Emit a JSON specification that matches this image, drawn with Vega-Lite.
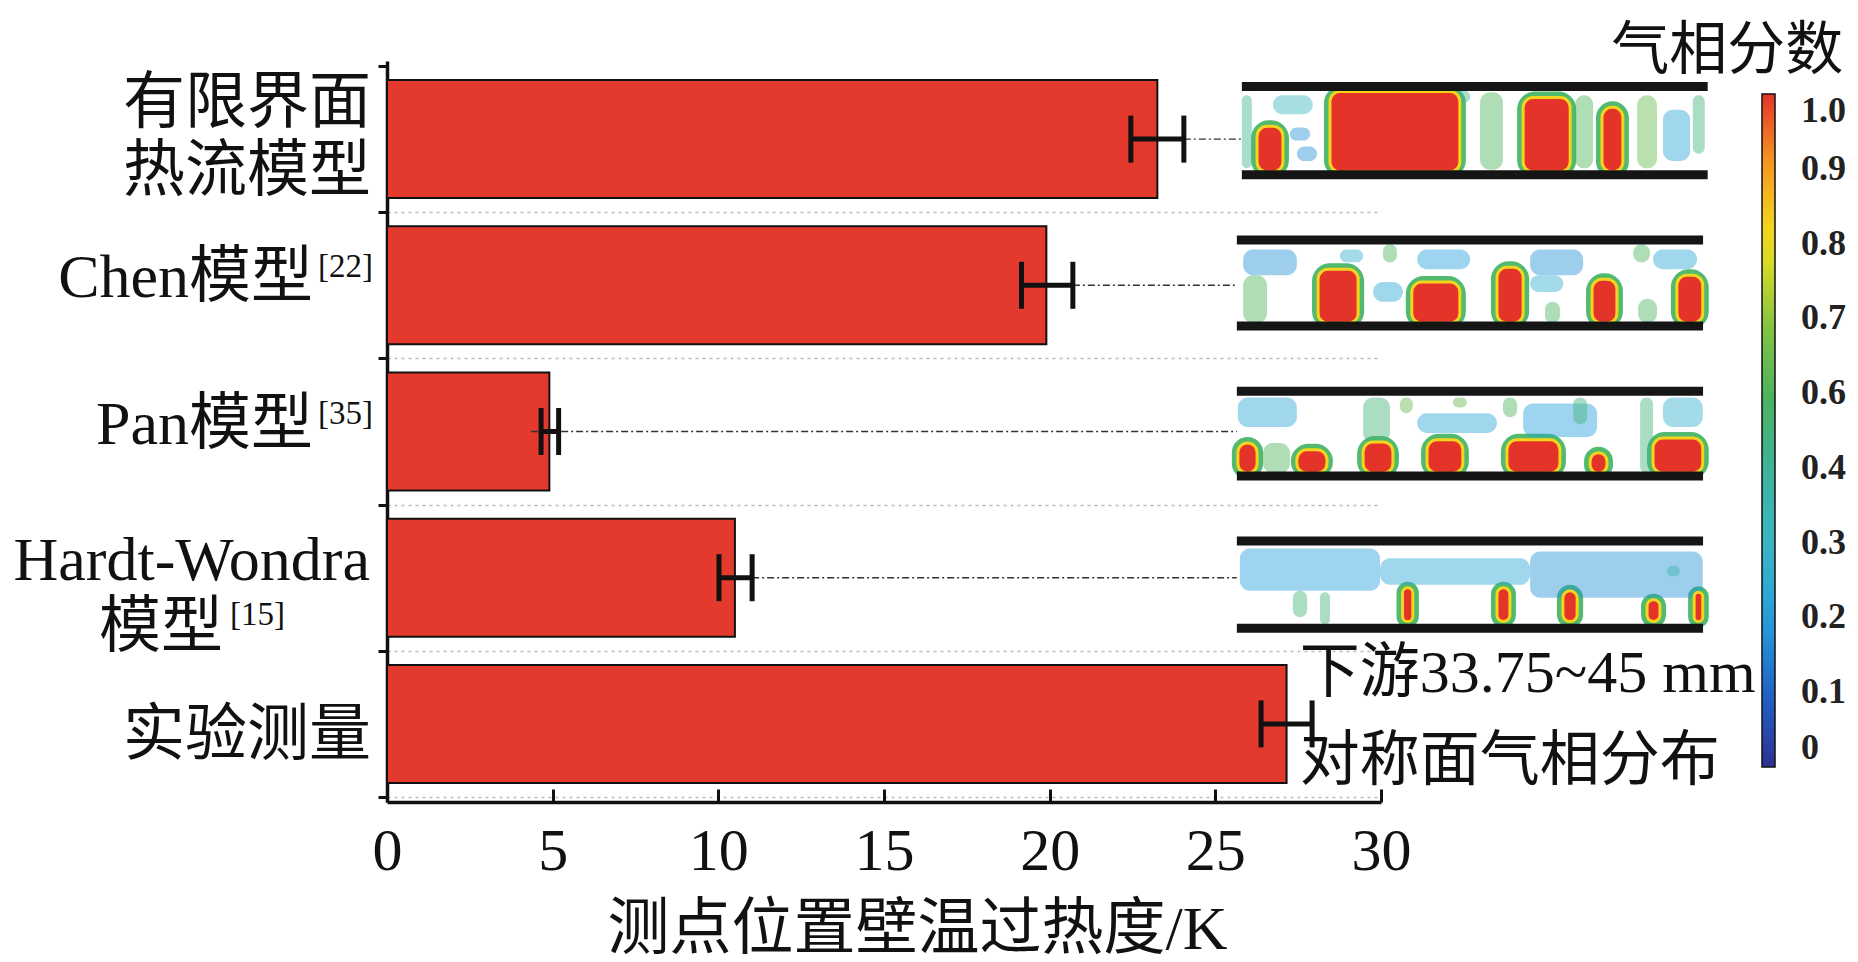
{
  "$schema": "https://vega.github.io/schema/vega-lite/v6.json",
  "width": 994,
  "height": 741,
  "autosize": {"type": "none"},
  "padding": {"left": 387, "top": 61, "right": 477, "bottom": 160},
  "background": "white",
  "config": {"view": {"stroke": null}},
  "datasets": {
    "bars": [
      {"model": "有限界面热流模型", "idx": 0, "value": 23.25, "lo": 22.45, "hi": 24.05},
      {"model": "Chen模型", "idx": 1, "value": 19.9, "lo": 19.15, "hi": 20.7},
      {"model": "Pan模型", "idx": 2, "value": 4.9, "lo": 4.65, "hi": 5.18},
      {"model": "Hardt-Wondra模型", "idx": 3, "value": 10.5, "lo": 10.02, "hi": 11.02},
      {"model": "实验测量", "idx": 4, "value": 27.15, "lo": 26.38, "hi": 27.92}
    ],
    "links": [
      {"idx": 0, "from": 24.05, "to": 25.8},
      {"idx": 1, "from": 20.7, "to": 25.65},
      {"idx": 2, "from": 4.35, "to": 25.65},
      {"idx": 3, "from": 11.02, "to": 25.65}
    ],
    "labels": [
      {"idx": 0, "text": "有限界面\n热流模型", "kind": "twoline"},
      {"idx": 1, "text": "Chen模型", "kind": "base"},
      {"idx": 1, "text": "[22]", "kind": "sup"},
      {"idx": 2, "text": "Pan模型", "kind": "base"},
      {"idx": 2, "text": "[35]", "kind": "sup"},
      {"idx": 3, "text": "Hardt-Wondra", "kind": "line1"},
      {"idx": 3, "text": "模型", "kind": "line2"},
      {"idx": 3, "text": "[15]", "kind": "line2sup"},
      {"idx": 4, "text": "实验测量", "kind": "plain"}
    ],
    "walls": [
      {"img": 0, "x0": 25.8, "x1": 39.86, "y": -0.36},
      {"img": 0, "x0": 25.8, "x1": 39.86, "y": 0.244},
      {"img": 1, "x0": 25.65, "x1": 39.72, "y": 0.691},
      {"img": 1, "x0": 25.65, "x1": 39.72, "y": 1.279},
      {"img": 2, "x0": 25.65, "x1": 39.72, "y": 1.725},
      {"img": 2, "x0": 25.65, "x1": 39.72, "y": 2.305},
      {"img": 3, "x0": 25.65, "x1": 39.72, "y": 2.749},
      {"img": 3, "x0": 25.65, "x1": 39.72, "y": 3.345}
    ],
    "cells": [
      {"img": 0, "x0": 25.8, "x1": 26.1, "y0": -0.3, "y1": 0.2, "f": 0.45},
      {"img": 0, "x0": 26.74, "x1": 27.94, "y0": -0.3, "y1": -0.17, "f": 0.35},
      {"img": 0, "x0": 27.25, "x1": 27.86, "y0": -0.08, "y1": 0.01, "f": 0.2},
      {"img": 0, "x0": 27.46, "x1": 28.07, "y0": 0.05, "y1": 0.15, "f": 0.2},
      {"img": 0, "x0": 31.48, "x1": 32.69, "y0": -0.33, "y1": -0.25, "f": 0.45},
      {"img": 0, "x0": 32.99, "x1": 33.68, "y0": -0.32, "y1": 0.21, "f": 0.55},
      {"img": 0, "x0": 35.86, "x1": 36.4, "y0": -0.3, "y1": 0.2, "f": 0.55},
      {"img": 0, "x0": 37.73, "x1": 38.33, "y0": -0.3, "y1": 0.2, "f": 0.6},
      {"img": 0, "x0": 38.51, "x1": 39.33, "y0": -0.2, "y1": 0.15, "f": 0.25},
      {"img": 0, "x0": 39.41, "x1": 39.77, "y0": -0.3, "y1": 0.1, "f": 0.5},
      {"img": 1, "x0": 25.84, "x1": 27.46, "y0": 0.755, "y1": 0.931, "f": 0.2},
      {"img": 1, "x0": 28.76, "x1": 29.46, "y0": 0.755, "y1": 0.843, "f": 0.3},
      {"img": 1, "x0": 30.06, "x1": 30.48, "y0": 0.72, "y1": 0.843, "f": 0.55},
      {"img": 1, "x0": 31.09, "x1": 32.69, "y0": 0.755, "y1": 0.89, "f": 0.22},
      {"img": 1, "x0": 34.5, "x1": 36.1, "y0": 0.755, "y1": 0.931, "f": 0.2},
      {"img": 1, "x0": 37.61, "x1": 38.12, "y0": 0.72, "y1": 0.843, "f": 0.55},
      {"img": 1, "x0": 38.21, "x1": 39.54, "y0": 0.755, "y1": 0.89, "f": 0.25},
      {"img": 1, "x0": 29.76, "x1": 30.66, "y0": 0.978, "y1": 1.113, "f": 0.25},
      {"img": 1, "x0": 34.5, "x1": 35.5, "y0": 0.931, "y1": 1.045, "f": 0.3},
      {"img": 1, "x0": 25.84, "x1": 26.56, "y0": 0.931, "y1": 1.26, "f": 0.55},
      {"img": 1, "x0": 34.95, "x1": 35.4, "y0": 1.113, "y1": 1.26, "f": 0.55},
      {"img": 1, "x0": 37.76, "x1": 38.33, "y0": 1.092, "y1": 1.26, "f": 0.55},
      {"img": 2, "x0": 25.68, "x1": 27.46, "y0": 1.767, "y1": 1.97, "f": 0.25},
      {"img": 2, "x0": 29.46, "x1": 30.27, "y0": 1.767, "y1": 2.078, "f": 0.5},
      {"img": 2, "x0": 30.57, "x1": 30.96, "y0": 1.767, "y1": 1.875, "f": 0.6},
      {"img": 2, "x0": 31.09, "x1": 33.5, "y0": 1.875, "y1": 2.01, "f": 0.25},
      {"img": 2, "x0": 32.17, "x1": 32.59, "y0": 1.767, "y1": 1.835, "f": 0.6},
      {"img": 2, "x0": 33.68, "x1": 34.11, "y0": 1.767, "y1": 1.902, "f": 0.55},
      {"img": 2, "x0": 34.29, "x1": 36.52, "y0": 1.808, "y1": 2.037, "f": 0.22},
      {"img": 2, "x0": 35.8, "x1": 36.22, "y0": 1.767, "y1": 1.95, "f": 0.5},
      {"img": 2, "x0": 37.82, "x1": 38.21, "y0": 1.767, "y1": 2.285, "f": 0.5},
      {"img": 2, "x0": 38.51, "x1": 39.71, "y0": 1.767, "y1": 1.97, "f": 0.3},
      {"img": 2, "x0": 26.44, "x1": 27.25, "y0": 2.078, "y1": 2.285, "f": 0.55},
      {"img": 3, "x0": 25.74, "x1": 29.97, "y0": 2.8, "y1": 3.09, "f": 0.22},
      {"img": 3, "x0": 29.97, "x1": 34.5, "y0": 2.867, "y1": 3.049, "f": 0.25},
      {"img": 3, "x0": 34.5, "x1": 39.71, "y0": 2.82, "y1": 3.137, "f": 0.2},
      {"img": 3, "x0": 38.63, "x1": 39.02, "y0": 2.92, "y1": 2.99, "f": 0.4},
      {"img": 3, "x0": 27.34, "x1": 27.77, "y0": 3.09, "y1": 3.27, "f": 0.5},
      {"img": 3, "x0": 28.16, "x1": 28.46, "y0": 3.1, "y1": 3.32, "f": 0.5},
      {"img": 0, "x0": 26.26, "x1": 27.04, "y0": -0.088, "y1": 0.225, "f": 1},
      {"img": 0, "x0": 28.46, "x1": 32.38, "y0": -0.325, "y1": 0.225, "f": 1},
      {"img": 0, "x0": 34.29, "x1": 35.71, "y0": -0.284, "y1": 0.225, "f": 1},
      {"img": 0, "x0": 36.67, "x1": 37.3, "y0": -0.217, "y1": 0.225, "f": 1},
      {"img": 1, "x0": 28.1, "x1": 29.31, "y0": 0.89, "y1": 1.26, "f": 1},
      {"img": 1, "x0": 30.93, "x1": 32.38, "y0": 0.978, "y1": 1.26, "f": 1},
      {"img": 1, "x0": 33.5, "x1": 34.29, "y0": 0.877, "y1": 1.26, "f": 1},
      {"img": 1, "x0": 36.37, "x1": 37.12, "y0": 0.958, "y1": 1.26, "f": 1},
      {"img": 1, "x0": 38.93, "x1": 39.71, "y0": 0.931, "y1": 1.26, "f": 1},
      {"img": 2, "x0": 25.68, "x1": 26.26, "y0": 2.078, "y1": 2.285, "f": 1},
      {"img": 2, "x0": 27.46, "x1": 28.37, "y0": 2.125, "y1": 2.285, "f": 1},
      {"img": 2, "x0": 29.46, "x1": 30.36, "y0": 2.071, "y1": 2.285, "f": 1},
      {"img": 2, "x0": 31.39, "x1": 32.47, "y0": 2.057, "y1": 2.285, "f": 1},
      {"img": 2, "x0": 33.8, "x1": 35.4, "y0": 2.057, "y1": 2.285, "f": 1},
      {"img": 2, "x0": 36.31, "x1": 36.82, "y0": 2.145, "y1": 2.285, "f": 1},
      {"img": 2, "x0": 38.21, "x1": 39.71, "y0": 2.044, "y1": 2.285, "f": 1},
      {"img": 3, "x0": 30.65, "x1": 30.96, "y0": 3.069, "y1": 3.3, "f": 1},
      {"img": 3, "x0": 33.5, "x1": 33.89, "y0": 3.069, "y1": 3.3, "f": 1},
      {"img": 3, "x0": 35.49, "x1": 35.92, "y0": 3.09, "y1": 3.3, "f": 1},
      {"img": 3, "x0": 38.03, "x1": 38.42, "y0": 3.15, "y1": 3.3, "f": 1},
      {"img": 3, "x0": 39.45, "x1": 39.71, "y0": 3.1, "y1": 3.3, "f": 1}
    ],
    "notes": [
      {"text": "下游33.75~45 mm\n对称面气相分布", "kind": "caption"},
      {"text": "气相分数", "kind": "cbar"}
    ]
  },
  "layer": [
    {
      "data": {"name": "bars"},
      "mark": {"type": "bar", "orient": "horizontal", "size": 118, "fill": "#e43a2e", "stroke": "#111", "strokeWidth": 2},
      "encoding": {
        "x": {
          "field": "value", "type": "quantitative", "title": "测点位置壁温过热度/K",
          "scale": {"domain": [0, 30], "nice": false},
          "axis": {
            "values": [0, 5, 10, 15, 20, 25, 30], "grid": false, "zindex": 1,
            "domainColor": "#111", "domainWidth": 3.5,
            "tickColor": "#111", "tickWidth": 3, "tickSize": -13,
            "labelFont": "Liberation Serif", "labelFontSize": 60, "labelColor": "#111",
            "labelBaseline": "alphabetic", "labelPadding": 80, "labelFlush": false,
            "titleFont": "Liberation Serif, Noto Sans CJK SC", "titleFontSize": 62,
            "titleFontWeight": "normal", "titleColor": "#111", "titleLimit": 900,
            "titleBaseline": "alphabetic", "titleX": 530, "titleY": 146
          }
        },
        "y": {
          "field": "idx", "type": "quantitative", "title": null,
          "scale": {"domain": [-0.5, 4.5], "nice": false, "zero": false, "reverse": true},
          "axis": {
            "values": [-0.5, 0.5, 1.5, 2.5, 3.5, 4.5], "labels": false,
            "domainColor": "#111", "domainWidth": 3.5,
            "tickColor": "#111", "tickWidth": 3, "tickSize": 9,
            "grid": true,
            "gridColor": {"condition": {"test": "datum.value < 0", "value": "transparent"}, "value": "#bdbdbd"},
            "gridDash": [3, 4], "gridWidth": 1.3
          }
        }
      }
    },
    {
      "data": {"name": "links"},
      "mark": {"type": "rule", "strokeDash": [7, 3, 2, 3], "strokeWidth": 1.4, "color": "#333"},
      "encoding": {
        "x": {"field": "from", "type": "quantitative"},
        "x2": {"field": "to"},
        "y": {"field": "idx", "type": "quantitative"}
      }
    },
    {
      "data": {"name": "bars"},
      "mark": {"type": "rule", "strokeWidth": 5, "color": "#111"},
      "encoding": {
        "x": {"field": "lo", "type": "quantitative"},
        "x2": {"field": "hi"},
        "y": {"field": "idx", "type": "quantitative"}
      }
    },
    {
      "data": {"name": "bars"},
      "mark": {"type": "tick", "orient": "vertical", "size": 47, "thickness": 5, "color": "#111", "opacity": 1},
      "encoding": {
        "x": {"field": "lo", "type": "quantitative"},
        "y": {"field": "idx", "type": "quantitative"}
      }
    },
    {
      "data": {"name": "bars"},
      "mark": {"type": "tick", "orient": "vertical", "size": 47, "thickness": 5, "color": "#111", "opacity": 1},
      "encoding": {
        "x": {"field": "hi", "type": "quantitative"},
        "y": {"field": "idx", "type": "quantitative"}
      }
    },
    {
      "data": {"name": "cells"},
      "transform": [{"filter": "datum.f == 1"}],
      "mark": {"type": "rect", "fill": "transparent", "stroke": "#3fb35f", "strokeWidth": 12, "cornerRadius": 12, "opacity": 0.9},
      "encoding": {
        "x": {"field": "x0", "type": "quantitative"},
        "x2": {"field": "x1"},
        "y": {"field": "y0", "type": "quantitative"},
        "y2": {"field": "y1"}
      }
    },
    {
      "data": {"name": "cells"},
      "mark": {"type": "rect", "cornerRadius": 10, "stroke": "#f4d41c"},
      "encoding": {
        "x": {"field": "x0", "type": "quantitative"},
        "x2": {"field": "x1"},
        "y": {"field": "y0", "type": "quantitative"},
        "y2": {"field": "y1"},
        "opacity": {"condition": {"test": "datum.f == 1", "value": 1}, "value": 0.45},
        "strokeWidth": {"condition": {"test": "datum.f == 1", "value": 3}, "value": 0},
        "color": {
          "field": "f", "type": "quantitative", "title": "气相分数",
          "scale": {
            "domain": [0, 0.1111, 0.2222, 0.3333, 0.4444, 0.5556, 0.6667, 0.7778, 0.8889, 1],
            "range": ["#2e3192", "#1f64c8", "#27a0dc", "#3bb6c4", "#3db39a", "#4cb35a", "#8cc63f", "#f2e21c", "#f6a01f", "#e4342a"],
            "interpolate": "rgb"
          },
          "legend": {
            "title": null,
            "orient": "none", "legendX": 1375, "legendY": 33, "direction": "vertical",
            "padding": 0,
            "gradientLength": 673, "gradientThickness": 13,
            "gradientStrokeColor": "#111", "gradientStrokeWidth": 1.5,
            "values": [0, 0.1111, 0.2222, 0.3333, 0.4444, 0.5556, 0.6667, 0.7778, 0.8889, 1],
            "labelExpr": "['0','0.1','0.2','0.3','0.4','0.6','0.7','0.8','0.9','1.0'][round(datum.value * 9)]",
            "labelFont": "Liberation Serif", "labelFontSize": 36, "labelFontWeight": "bold", "labelColor": "#222",
            "labelOffset": 26, "labelOverlap": false
          }
        }
      }
    },
    {
      "data": {"name": "walls"},
      "mark": {"type": "rule", "strokeWidth": 9, "color": "#151515"},
      "encoding": {
        "x": {"field": "x0", "type": "quantitative"},
        "x2": {"field": "x1"},
        "y": {"field": "y", "type": "quantitative"}
      }
    },
    {
      "data": {"name": "labels"},
      "transform": [{"filter": "datum.kind == 'twoline'"}],
      "mark": {"type": "text", "align": "right", "baseline": "alphabetic", "font": "Liberation Serif, Noto Sans CJK SC", "fontSize": 62, "color": "#111", "dx": -16, "dy": -16, "lineBreak": "\n", "lineHeight": 68},
      "encoding": {
        "x": {"datum": 0, "type": "quantitative"},
        "y": {"field": "idx", "type": "quantitative"},
        "text": {"field": "text"}
      }
    },
    {
      "data": {"name": "labels"},
      "transform": [{"filter": "datum.kind == 'plain'"}],
      "mark": {"type": "text", "align": "right", "baseline": "alphabetic", "font": "Liberation Serif, Noto Sans CJK SC", "fontSize": 62, "color": "#111", "dx": -16, "dy": 31},
      "encoding": {
        "x": {"datum": 0, "type": "quantitative"},
        "y": {"field": "idx", "type": "quantitative"},
        "text": {"field": "text"}
      }
    },
    {
      "data": {"name": "labels"},
      "transform": [{"filter": "datum.kind == 'base'"}],
      "mark": {"type": "text", "align": "right", "baseline": "alphabetic", "font": "Liberation Serif, Noto Sans CJK SC", "fontSize": 62, "color": "#111", "dx": -74, "dy": 12},
      "encoding": {
        "x": {"datum": 0, "type": "quantitative"},
        "y": {"field": "idx", "type": "quantitative"},
        "text": {"field": "text"}
      }
    },
    {
      "data": {"name": "labels"},
      "transform": [{"filter": "datum.kind == 'sup'"}],
      "mark": {"type": "text", "align": "right", "baseline": "alphabetic", "font": "Liberation Serif", "fontSize": 33, "color": "#111", "dx": -14, "dy": -8},
      "encoding": {
        "x": {"datum": 0, "type": "quantitative"},
        "y": {"field": "idx", "type": "quantitative"},
        "text": {"field": "text"}
      }
    },
    {
      "data": {"name": "labels"},
      "transform": [{"filter": "datum.kind == 'line1'"}],
      "mark": {"type": "text", "align": "right", "baseline": "alphabetic", "font": "Liberation Serif", "fontSize": 62, "color": "#111", "dx": -17, "dy": 2},
      "encoding": {
        "x": {"datum": 0, "type": "quantitative"},
        "y": {"field": "idx", "type": "quantitative"},
        "text": {"field": "text"}
      }
    },
    {
      "data": {"name": "labels"},
      "transform": [{"filter": "datum.kind == 'line2'"}],
      "mark": {"type": "text", "align": "right", "baseline": "alphabetic", "font": "Liberation Serif, Noto Sans CJK SC", "fontSize": 62, "color": "#111", "dx": -164, "dy": 69},
      "encoding": {
        "x": {"datum": 0, "type": "quantitative"},
        "y": {"field": "idx", "type": "quantitative"},
        "text": {"field": "text"}
      }
    },
    {
      "data": {"name": "labels"},
      "transform": [{"filter": "datum.kind == 'line2sup'"}],
      "mark": {"type": "text", "align": "right", "baseline": "alphabetic", "font": "Liberation Serif", "fontSize": 33, "color": "#111", "dx": -102, "dy": 47},
      "encoding": {
        "x": {"datum": 0, "type": "quantitative"},
        "y": {"field": "idx", "type": "quantitative"},
        "text": {"field": "text"}
      }
    },
    {
      "data": {"name": "notes"},
      "transform": [{"filter": "datum.kind == 'caption'"}],
      "mark": {"type": "text", "align": "left", "baseline": "alphabetic", "font": "Liberation Serif, Noto Sans CJK SC", "fontSize": 60, "color": "#111", "lineBreak": "\n", "lineHeight": 88},
      "encoding": {
        "x": {"datum": 27.55, "type": "quantitative"},
        "y": {"datum": 3.78, "type": "quantitative"},
        "text": {"field": "text"}
      }
    },
    {
      "data": {"name": "notes"},
      "transform": [{"filter": "datum.kind == 'cbar'"}],
      "mark": {"type": "text", "align": "right", "baseline": "alphabetic", "font": "Noto Sans CJK SC", "fontSize": 58, "color": "#111"},
      "encoding": {
        "x": {"datum": 43.95, "type": "quantitative"},
        "y": {"datum": -0.48, "type": "quantitative"},
        "text": {"field": "text"}
      }
    }
  ]
}
